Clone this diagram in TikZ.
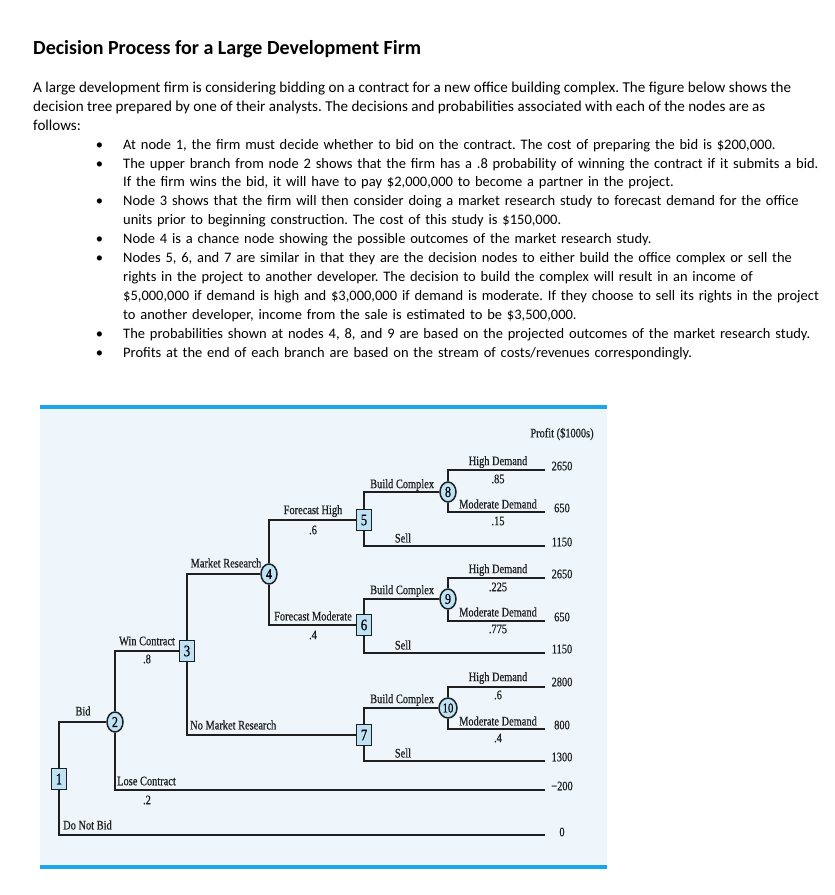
\documentclass[tikz,border=0pt]{standalone}
\usepackage{fontspec}
\setmainfont{Carlito}
\newfontfamily\treefont[FakeStretch=0.8, FakeBold=0.6]{Liberation Serif}
\usepackage{enumitem}
\usetikzlibrary{shapes.geometric, positioning}
\definecolor{panelbg}{HTML}{EEF6FB}
\definecolor{rulecyan}{HTML}{1BA6EA}
\definecolor{nodefill}{HTML}{BEE3F6}
\definecolor{inkdark}{HTML}{1F1F1F}

\begin{document}
\frenchspacing
\begin{tikzpicture}[
    x=1pt, y=-1pt,
    % ── shared styles ──
    title text/.style={font=\fontsize{20}{23}\selectfont\bfseries, inner sep=0pt,
        anchor=base west, text=black},
    body text/.style={font=\fontsize{15.1}{18.9}\selectfont, align=left,
        inner sep=0pt, anchor=north west, text=black},
    decision/.style={rectangle, draw=inkdark, fill=nodefill, line width=1.5pt,
        minimum width=15pt, minimum height=21pt, inner sep=0pt,
        font=\treefont\fontsize{16}{16}\selectfont},
    chance/.style={ellipse, draw=inkdark, fill=nodefill, line width=1.5pt,
        minimum width=16pt, minimum height=20pt, inner sep=0pt,
        font=\treefont\fontsize{15}{15}\selectfont},
    branch/.style={draw=inkdark, line width=2pt},
    blab/.style={font=\treefont\fontsize{13}{13}\selectfont, text=inkdark,
        inner sep=0pt},
    profit/.style={font=\treefont\fontsize{13}{13}\selectfont, text=inkdark,
        inner sep=0pt},
]
\useasboundingbox (0,0) rectangle (835,895);

% ══════════════════════════════════════════════════════════════════════
%  DIMENSIONS
% ══════════════════════════════════════════════════════════════════════
\def\tipX{545}    % right end of every branch
\def\profX{562}   % profit column centre
\def\panelL{40}  \def\panelR{607}  \def\panelT{407}  \def\panelB{867}

% ══════════════════════════════════════════════════════════════════════
%  HEADING + DESCRIPTION
% ══════════════════════════════════════════════════════════════════════
\node[title text] (title) at (33,54) {Decision Process for a Large Development Firm};

\node[body text] (intro) at (33,79)
    {\strut A large development firm is considering bidding on a contract for a new office building complex. The figure below shows the\\
     decision tree prepared by one of their analysts. The decisions and probabilities associated with each of the nodes are as\\
     follows:};

\node[body text, text width=738pt, font=\fontsize{14.5}{18.9}\selectfont] (bullets) at (97,130) {%
  \begin{itemize}[leftmargin=26pt, labelsep=20pt, itemsep=0pt, topsep=0pt,
      parsep=0pt, partopsep=0pt, label=\textbullet]
    \raggedright
    \item At node 1, the firm must decide whether to bid on the contract. The cost of preparing the bid is \$200,000.
    \item The upper branch from node 2 shows that the firm has a .8 probability of winning the contract if it submits a bid.\newline
          If the firm wins the bid, it will have to pay \$2,000,000 to become a partner in the project.
    \item Node 3 shows that the firm will then consider doing a market research study to forecast demand for the office\newline
          units prior to beginning construction. The cost of this study is \$150,000.
    \item Node 4 is a chance node showing the possible outcomes of the market research study.
    \item Nodes 5, 6, and 7 are similar in that they are the decision nodes to either build the office complex or sell the\newline
          rights in the project to another developer. The decision to build the complex will result in an income of\newline
          \$5,000,000 if demand is high and \$3,000,000 if demand is moderate. If they choose to sell its rights in the project\newline
          to another developer, income from the sale is estimated to be \$3,500,000.
    \item The probabilities shown at nodes 4, 8, and 9 are based on the projected outcomes of the market research study.
    \item Profits at the end of each branch are based on the stream of costs/revenues correspondingly.
  \end{itemize}};

% ══════════════════════════════════════════════════════════════════════
%  PANEL
% ══════════════════════════════════════════════════════════════════════
\fill[panelbg] (\panelL,\panelT) rectangle (\panelR,\panelB);
\draw[rulecyan, line width=4pt] (\panelL,\panelT) -- (\panelR,\panelT);
\draw[rulecyan, line width=4pt] (\panelL,\panelB) -- (\panelR,\panelB);

% ══════════════════════════════════════════════════════════════════════
%  TREE NODES
% ══════════════════════════════════════════════════════════════════════
\node[decision] (n1) at (59,779) {1};
\node[chance]   (n2) at (115,722) {2};
\node[decision] (n3) at (187,651) {3};
\node[chance]   (n4) at (269,574) {4};
\node[decision] (n5) at (364,520) {5};
\node[decision] (n6) at (364,625) {6};
\node[decision] (n7) at (364,735) {7};
\node[chance]   (n8) at (448,492) {8};
\node[chance]   (n9) at (448,599) {9};
\node[chance, minimum width=18pt, font=\treefont\fontsize{13.5}{13.5}\selectfont] (n10) at (448,708) {10};

% branch ends
\coordinate (e8h) at (\tipX,470);
\coordinate (e8m) at (\tipX,512);
\coordinate (e5s) at (\tipX,546);
\coordinate (e9h) at (\tipX,578);
\coordinate (e9m) at (\tipX,621);
\coordinate (e6s) at (\tipX,653);
\coordinate (e10h) at (\tipX,687);
\coordinate (e10m) at (\tipX,729);
\coordinate (e7s) at (\tipX,761);
\coordinate (eLose) at (\tipX,790);
\coordinate (eNo) at (\tipX,835);

% ══════════════════════════════════════════════════════════════════════
%  BRANCHES
% ══════════════════════════════════════════════════════════════════════
\draw[branch] (n1.north) |- (n2.west);
\draw[branch] (n1.south) |- (eNo);
\draw[branch] (n2.north) |- (n3.west);
\draw[branch] (n2.south) |- (eLose);
\draw[branch] (n3.north) |- (n4.west);
\draw[branch] (n3.south) |- (n7.west);
\draw[branch] (n4.north) |- (n5.west);
\draw[branch] (n4.south) |- (n6.west);
\draw[branch] (n5.north) |- (n8.west);
\draw[branch] (n5.south) |- (e5s);
\draw[branch] (n6.north) |- (n9.west);
\draw[branch] (n6.south) |- (e6s);
\draw[branch] (n7.north) |- (n10.west);
\draw[branch] (n7.south) |- (e7s);
\draw[branch] (n8.north) |- (e8h);
\draw[branch] (n8.south) |- (e8m);
\draw[branch] (n9.north) |- (e9h);
\draw[branch] (n9.south) |- (e9m);
\draw[branch] (n10.north) |- (e10h);
\draw[branch] (n10.south) |- (e10m);

% ══════════════════════════════════════════════════════════════════════
%  BRANCH LABELS
% ══════════════════════════════════════════════════════════════════════
\node[blab] (lBid) at (83,711) {Bid};
\node[blab, anchor=west] (lNoBid) at (63,825) {Do Not Bid};
\node[blab] (lWin) at (147,641) {Win Contract};
\node[blab] (pWin) at (147,659) {.8};
\node[blab, anchor=west] (lLose) at (117,781) {Lose Contract};
\node[blab] (pLose) at (147,800) {.2};
\node[blab] (lMR) at (226,563) {Market Research};
\node[blab, anchor=west] (lNoMR) at (190,725) {No Market Research};
\node[blab] (lFH) at (313,511) {Forecast High};
\node[blab] (pFH) at (313,530) {.6};
\node[blab] (lFM) at (313,616) {Forecast Moderate};
\node[blab] (pFM) at (313,635) {.4};

\foreach \nm/\by/\sy in {5/485/538, 6/591/645, 7/700/753}{
  \node[blab, anchor=west] (lBuild\nm) at (370,\by) {Build Complex};
  \node[blab] (lSell\nm) at (403,\sy) {Sell};
}

\foreach \nm/\hy/\hp/\my/\mp in {8/462/.85/504/.15, 9/570/.225/612/.775, 10/678/.6/721/.4}{
  \node[blab] (lHigh\nm) at (498,\hy) {High Demand};
  \node[blab] (pHigh\nm) at (498,\hy+17) {\hp};
  \node[blab] (lMod\nm) at (498,\my) {Moderate Demand};
  \node[blab] (pMod\nm) at (498,\my+17) {\mp};
}

% ══════════════════════════════════════════════════════════════════════
%  PROFITS
% ══════════════════════════════════════════════════════════════════════
\node[profit] (profHead) at (\profX,434) {Profit (\$1000s)};
\foreach \val/\py [count=\k] in {2650/466, 650/508, 1150/542, 2650/574, 650/617,
    1150/649, 2800/682, 800/725, 1300/757, −200/786, 0/832}{
  \node[profit] (prof\k) at (\profX,\py) {\val};
}

\end{tikzpicture}
\end{document}
